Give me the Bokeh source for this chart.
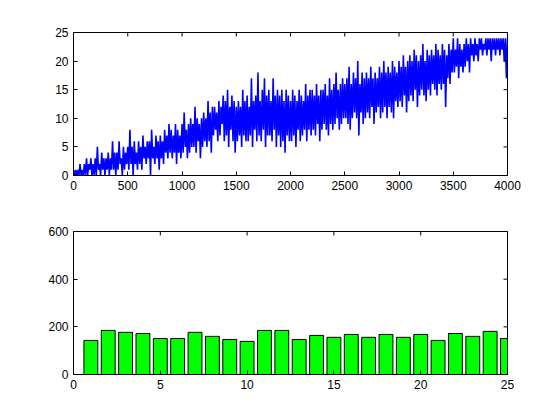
import math
from bokeh.plotting import figure
from bokeh.layouts import column
from bokeh.models import FixedTicker, Range1d
from bokeh.embed import file_html
from bokeh.resources import INLINE

# ---- data ----
# top panel: signal sampled every 10 samples (values read from the picture)
signal_values = [
    1,0,1,0,1,0,2,0,1,0,
    2,0,3,0,2,1,3,0,2,0,
    3,0,5,1,2,0,4,1,3,0,
    3,1,4,0,3,1,6,1,4,0,
    4,1,6,2,3,0,5,1,4,2,
    5,1,8,2,5,0,6,2,4,1,
    6,2,5,1,7,3,5,2,6,3,
    6,0,8,3,5,2,7,3,6,1,
    7,3,6,2,8,4,7,3,9,4,
    8,3,7,4,9,2,8,4,7,3,
    9,4,11,5,8,3,9,4,10,5,
    9,5,12,4,10,6,9,3,10,5,
    11,6,10,5,13,6,11,4,12,7,
    12,8,11,6,13,7,12,9,14,6,
    13,7,15,5,12,8,14,6,13,4,
    12,6,13,7,12,5,15,7,13,6,
    14,6,12,7,17,5,13,8,14,6,
    18,7,13,6,15,8,17,5,14,7,
    15,7,13,6,17,8,14,5,15,7,
    14,5,15,6,13,4,15,7,14,6,
    13,6,15,7,14,5,13,8,15,6,
    14,7,13,8,16,6,14,8,15,7,
    15,8,14,7,16,9,14,6,15,8,
    15,9,16,8,14,7,17,9,15,8,
    16,9,18,10,15,8,16,9,17,10,
    16,10,17,9,19,8,16,10,18,11,
    17,10,20,7,16,11,18,9,17,10,
    18,11,17,10,19,12,17,9,18,11,
    17,12,19,10,18,11,20,12,18,10,
    19,12,18,11,20,10,19,13,18,12,
    20,13,19,12,21,14,19,11,20,13,
    21,14,20,13,22,15,21,12,20,14,
    21,15,23,14,20,13,22,15,21,14,
    22,16,21,15,23,14,22,16,21,15,
    23,16,22,12,21,17,23,16,22,18,
    24,18,22,19,24,17,23,19,22,18,
    23,19,24,20,23,18,24,21,23,20,
    24,21,23,20,24,22,24,21,23,22,
    24,21,24,22,24,20,24,22,24,21,
    24,22,24,21,24,22,24,20,24,17,
    24,
]
sample_step = 10
signal_x = [i * sample_step for i in range(len(signal_values))]

# bottom panel: histogram counts
bins = list(range(1, 26))
counts = [143, 185, 177, 172, 151, 151, 177, 160, 147, 139, 185, 185, 147,
          164, 156, 168, 156, 168, 156, 168, 143, 172, 160, 181, 151]

top_xticks = [0, 500, 1000, 1500, 2000, 2500, 3000, 3500, 4000]
top_yticks = [0, 5, 10, 15, 20, 25]
bot_xticks = [0, 5, 10, 15, 20, 25]
bot_yticks = [0, 200, 400, 600]

FONT = "Liberation Sans"
FS = "12px"


def style_axes(p, xt, yt, xr, yr):
    for ax in p.xaxis + p.yaxis:
        ax.axis_line_color = "black"
        ax.major_tick_in = 4
        ax.major_tick_out = 0
        ax.minor_tick_line_color = None
        ax.major_label_text_font = FONT
        ax.major_label_text_font_size = FS
        ax.major_label_text_color = "black"
    p.xaxis.major_label_standoff = 5
    p.yaxis.major_label_standoff = 5
    p.xaxis.ticker = FixedTicker(ticks=xt)
    p.yaxis.ticker = FixedTicker(ticks=yt)
    p.xgrid.visible = False
    p.ygrid.visible = False
    p.outline_line_color = "black"
    # inward ticks on the top and right edges of the box (clipped to the frame)
    p.scatter(xt, [yr[1]] * len(xt), marker="dash", size=8, angle=math.pi / 2,
              line_color="black", line_width=1)
    p.scatter([xr[1]] * len(yt), yt, marker="dash", size=8, angle=0,
              line_color="black", line_width=1)


p1 = figure(frame_width=434, frame_height=143, output_backend="svg", toolbar_location=None,
            x_range=Range1d(0, 4000), y_range=Range1d(0, 25),
            min_border_left=73, min_border_top=32, min_border_right=45, min_border_bottom=36)
p1.line(signal_x, signal_values, line_color="#0000ff", line_width=1.6)
style_axes(p1, top_xticks, top_yticks, (0, 4000), (0, 25))

p2 = figure(frame_width=434, frame_height=143, output_backend="svg", toolbar_location=None,
            x_range=Range1d(0, 25), y_range=Range1d(0, 600),
            min_border_left=73, min_border_top=20, min_border_right=45, min_border_bottom=30)
p2.vbar(x=bins, top=counts, width=0.8, fill_color="#00ff00", line_color="black", line_width=1)
style_axes(p2, bot_xticks, bot_yticks, (0, 25), (0, 600))

layout = column(p1, p2, spacing=0)
open("out.html", "w").write(file_html(layout, INLINE))
